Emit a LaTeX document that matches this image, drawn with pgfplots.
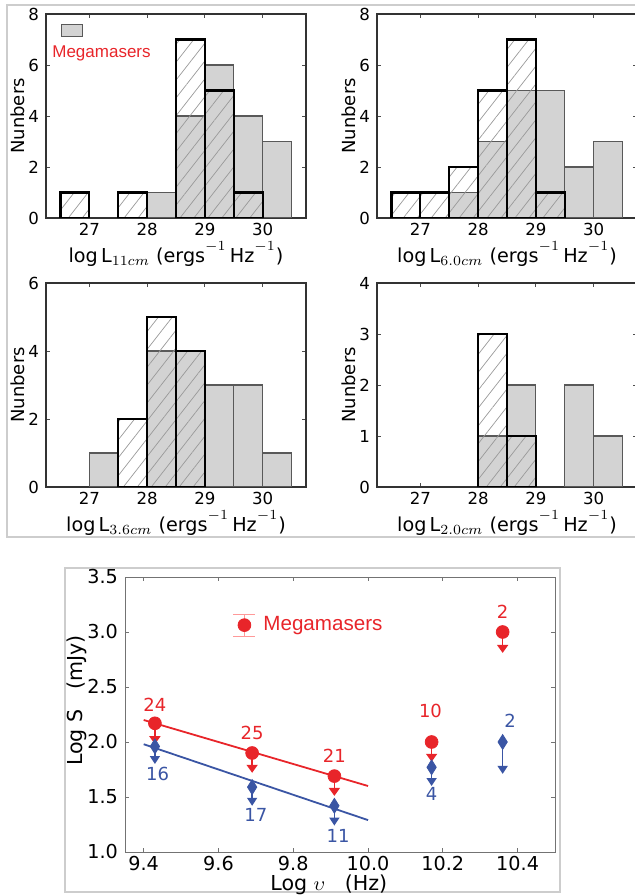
\documentclass[border=0pt]{standalone}
\usepackage{fontspec}
\setmainfont{DejaVu Sans}
\newfontfamily\legfont{Liberation Sans}
\usepackage{pgfplots}
\pgfplotsset{compat=1.18}
\usetikzlibrary{patterns.meta,arrows.meta}

\definecolor{mred}{RGB}{232,37,42}
\definecolor{mblue}{RGB}{58,85,164}
\definecolor{barg}{RGB}{211,211,211}
\definecolor{frameg}{RGB}{205,205,205}

\pgfplotsset{
  hist/.style={
    scale only axis, width=130pt, height=102pt, anchor=south west,
    xmin=26.25, xmax=30.75, ymin=0,
    xtick={27,28,29,30},
    tick align=inside, major tick length=2pt,
    axis line style={black!80, line width=0.6pt},
    tick style={black!70, line width=0.4pt},
    tick label style={font=\fontsize{8.3}{9}\selectfont},
    xticklabel style={yshift=1pt},
    /pgf/number format/assume math mode=true,
    ylabel={Nunbers},
    ylabel style={at={(axis description cs:-0.108,0.5)}, anchor=center, font=\fontsize{9}{10}\selectfont},
    xlabel style={at={(axis description cs:0.5,-0.178)}, anchor=center, font=\fontsize{9.6}{10}\selectfont},
  },
  mega/.style={ybar, bar width=0.5, bar shift=0pt, fill=barg, draw=black!65, line width=0.6pt},
  nonm/.style={ybar, bar width=0.5, bar shift=0pt, draw=black, line width=1.1pt,
    pattern={Lines[angle=52, distance=5.5pt, line width=0.35pt]}, pattern color=black!40},
}

\begin{document}
\begin{tikzpicture}

% frames
\draw[frameg, line width=0.7pt] (3.5pt,179pt) rectangle (330pt,445pt);
\draw[frameg, line width=0.7pt] (32.5pt,1.5pt) rectangle (280pt,163.5pt);

% 11 cm
\begin{axis}[hist, at={(23pt,338.5pt)}, ymax=8, ytick={0,2,4,6,8},
  xlabel={$\log$\,L$_{11cm}$ (ergs$^{-1}$\,Hz$^{-1}$)},
  legend style={draw=none, fill=none, at={(axis description cs:0.023,0.81)}, anchor=west,
    font=\legfont\fontsize{8.5}{10}\selectfont, text=mred, inner sep=0pt, column sep=0pt,
    nodes={inner sep=0pt}},
  legend image code/.code={\draw[overlay, fill=barg, draw=black!65, line width=0.5pt] (4.5pt,8pt) rectangle (15pt,14pt);},
]
\addplot[mega] coordinates {(28.25,1) (28.75,4) (29.25,6) (29.75,4) (30.25,3)};
\addlegendentry{Megamasers}
\addplot[nonm, forget plot] coordinates {(26.75,1) (27.75,1) (28.75,7) (29.25,5) (29.75,1)};
\end{axis}

% 6.0 cm
\begin{axis}[hist, at={(188.5pt,338.5pt)}, ymax=8, ytick={0,2,4,6,8},
  xlabel={$\log$\,L$_{6.0cm}$ (ergs$^{-1}$\,Hz$^{-1}$)}]
\addplot[mega] coordinates {(27.75,1) (28.25,3) (28.75,5) (29.25,5) (29.75,2) (30.25,3)};
\addplot[nonm] coordinates {(26.75,1) (27.25,1) (27.75,2) (28.25,5) (28.75,7) (29.25,1)};
\end{axis}

% 3.6 cm
\begin{axis}[hist, at={(23pt,204pt)}, ymax=6, ytick={0,2,4,6},
  xlabel={$\log$\,L$_{3.6cm}$ (ergs$^{-1}$\,Hz$^{-1}$)}]
\addplot[mega] coordinates {(27.25,1) (28.25,4) (28.75,4) (29.25,3) (29.75,3) (30.25,1)};
\addplot[nonm] coordinates {(27.75,2) (28.25,5) (28.75,4)};
\end{axis}

% 2.0 cm
\begin{axis}[hist, at={(188.5pt,204pt)}, ymax=4, ytick={0,1,2,3,4},
  xlabel={$\log$\,L$_{2.0cm}$ (ergs$^{-1}$\,Hz$^{-1}$)}]
\addplot[mega] coordinates {(28.25,1) (28.75,2) (29.75,2) (30.25,1)};
\addplot[nonm] coordinates {(28.25,3) (28.75,1)};
\end{axis}

% spectral plot
\begin{axis}[at={(62.5pt,21.5pt)}, anchor=south west, scale only axis,
  width=215pt, height=137.5pt,
  xmin=9.35, xmax=10.5, ymin=1, ymax=3.5,
  xtick={9.4,9.6,9.8,10.0,10.2,10.4}, ytick={1,1.5,2,2.5,3,3.5},
  tick align=inside, major tick length=2pt,
  axis line style={black!55, line width=0.5pt},
  tick style={black!55, line width=0.4pt},
  tick label style={font=\fontsize{9.6}{11}\selectfont,
    /pgf/number format/fixed, /pgf/number format/fixed zerofill,
    /pgf/number format/precision=1},
  xticklabel style={yshift=1.5pt},
  /pgf/number format/assume math mode=true,
  xlabel={Log $\upsilon$\ \ \ (Hz)},
  ylabel={Log S\ \ \ (mJy)},
  xlabel style={at={(axis description cs:0.474,-0.118)}, anchor=center, font=\fontsize{10.3}{12}\selectfont},
  ylabel style={at={(axis description cs:-0.112,0.55)}, anchor=center, font=\fontsize{10.3}{12}\selectfont},
  legend style={draw=none, fill=none, at={(axis description cs:0.321,0.825)}, anchor=west,
    font=\legfont\fontsize{10.3}{12}\selectfont, text=mred, inner sep=0pt,
    nodes={inner sep=0pt}},
  legend image code/.code={
    \draw[overlay, red!40, line width=0.6pt] (-9.5pt,-5.5pt)--(-9.5pt,5.5pt)
      (-15pt,-5.5pt)--(-4pt,-5.5pt) (-15pt,5.5pt)--(-4pt,5.5pt);
    \fill[overlay, mred] (-9.5pt,0pt) circle (3.2pt);},
]
\addplot[mblue, line width=0.9pt, forget plot] coordinates {(9.4,1.98) (10.0,1.29)};
\addplot[mred, line width=0.9pt, forget plot] coordinates {(9.4,2.2) (10.0,1.6)};
\addplot[mblue, line width=0.8pt, quiver={u=0, v=\thisrow{v}},
  -{Triangle[width=5pt,length=4pt]}, forget plot] table {
x y v
9.43 1.96 -0.16
9.69 1.59 -0.17
9.91 1.42 -0.18
10.17 1.77 -0.17
10.36 2.00 -0.29
};
\addplot[only marks, mark=diamond*, mark size=3.1pt, mblue,
  mark options={yscale=1.2, fill=mblue, draw=mblue}, forget plot] table {
x y
9.43 1.96
9.69 1.59
9.91 1.42
10.17 1.77
10.36 2.00
};
\addplot[mred, line width=0.8pt, quiver={u=0, v=\thisrow{v}},
  -{Triangle[width=5.5pt,length=4pt]}, forget plot] table {
x y v
9.43 2.17 -0.19
9.69 1.90 -0.18
9.91 1.69 -0.18
10.17 2.00 -0.18
10.36 3.00 -0.19
};
\addplot[only marks, mark=*, mark size=3.2pt, mred,
  mark options={fill=mred, draw=mred}] table {
x y
9.43 2.17
9.69 1.90
9.91 1.69
10.17 2.00
10.36 3.00
};
\addlegendentry{Megamasers}
\begin{scope}[every node/.style={font=\fontsize{9}{10}\selectfont}]
\node[mred] at (axis cs:9.43,2.34) {24};
\node[mred] at (axis cs:9.69,2.08) {25};
\node[mred] at (axis cs:9.91,1.87) {21};
\node[mred] at (axis cs:10.167,2.28) {10};
\node[mred] at (axis cs:10.36,3.18) {2};
\node[mblue] at (axis cs:9.437,1.71) {16};
\node[mblue] at (axis cs:9.70,1.34) {17};
\node[mblue] at (axis cs:9.92,1.15) {11};
\node[mblue] at (axis cs:10.17,1.53) {4};
\node[mblue] at (axis cs:10.38,2.19) {2};
\end{scope}
\end{axis}

\pgfresetboundingbox
\path[use as bounding box] (0,0) rectangle (317pt,447.5pt);
\end{tikzpicture}
\end{document}
